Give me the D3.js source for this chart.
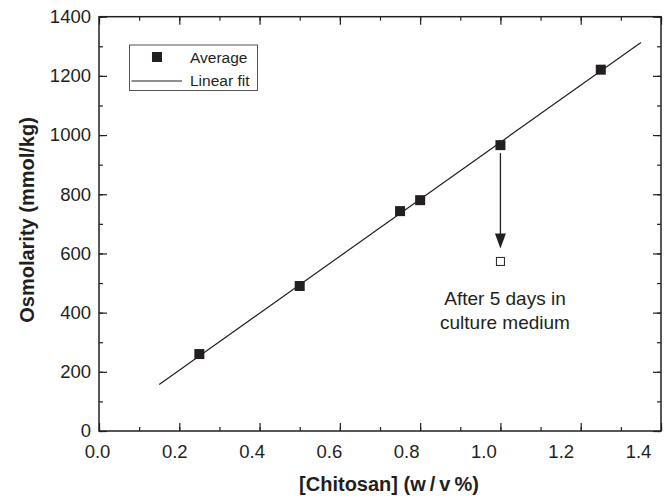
<!DOCTYPE html>
<html>
<head>
<meta charset="utf-8">
<script src="https://cdn.jsdelivr.net/npm/d3@7"></script>
<style>
  body { margin: 0; background: #fff; }
  svg { font-family: "Liberation Sans", Arial, sans-serif; }
</style>
</head>
<body>
<div id="chart"></div>
<script>
// values
const avgX = [0.25, 0.5, 0.75, 0.8, 1.0, 1.25];
const avgY = [260, 490, 743, 780, 966, 1221];
const fitX = [0.15, 1.35];
const fitY = [157, 1313];
const afterX = [1.0];
const afterY = [573];
const xTicks = [0, 0.2, 0.4, 0.6, 0.8, 1.0, 1.2, 1.4];
const yTicks = [0, 200, 400, 600, 800, 1000, 1200, 1400];

const ink = '#231f20';
const width = 672, height = 499;
const pLeft = 99, pRight = 661, pTop = 16.7, pBottom = 431;

const svg = d3.select('#chart').append('svg')
    .attr('width', width)
    .attr('height', height);

const x = d3.scaleLinear().domain([0, 1.4]).range([pLeft, pRight]);
const y = d3.scaleLinear().domain([0, 1400]).range([pBottom, pTop]);
// tick labels in the original sit a little left of their ticks
const xLab = d3.scaleLinear().domain([0, 1.4]).range([97, 638]);

const xMinor = d3.range(0, 15).map(i => i / 10);
const yMinor = d3.range(0, 15).map(i => i * 100);

function ticks(axis, vals, len) {
    return axis.tickValues(vals).tickSize(len).tickFormat('');
}

// inward ticks on all four sides
const g = svg.append('g').attr('class', 'frame');
g.append('g').attr('transform', `translate(0,${pBottom})`).call(ticks(d3.axisTop(x), xMinor, 4));
g.append('g').attr('transform', `translate(0,${pBottom})`).call(ticks(d3.axisTop(x), xTicks, 8));
g.append('g').attr('transform', `translate(0,${pTop})`).call(ticks(d3.axisBottom(x), xMinor, 4));
g.append('g').attr('transform', `translate(0,${pTop})`).call(ticks(d3.axisBottom(x), xTicks, 8));
g.append('g').attr('transform', `translate(${pLeft},0)`).call(ticks(d3.axisRight(y), yMinor, 4));
g.append('g').attr('transform', `translate(${pLeft},0)`).call(ticks(d3.axisRight(y), yTicks, 8));
g.append('g').attr('transform', `translate(${pRight},0)`).call(ticks(d3.axisLeft(y), yMinor, 4));
g.append('g').attr('transform', `translate(${pRight},0)`).call(ticks(d3.axisLeft(y), yTicks, 8));
g.selectAll('.domain').remove();
g.selectAll('line').attr('stroke', ink).attr('stroke-width', 1.2);

svg.append('rect')
    .attr('x', pLeft).attr('y', pTop)
    .attr('width', pRight - pLeft).attr('height', pBottom - pTop)
    .attr('fill', 'none').attr('stroke', ink).attr('stroke-width', 1.5);

// tick labels
const xl = svg.append('g').attr('transform', `translate(0,${pBottom + 9})`)
    .call(d3.axisBottom(xLab).tickValues(xTicks).tickSize(0).tickPadding(0).tickFormat(d3.format('.1f')));
const yl = svg.append('g').attr('transform', `translate(${pLeft - 8},0)`)
    .call(d3.axisLeft(y).tickValues(yTicks).tickSize(0).tickPadding(0).tickFormat(d3.format('d')));
[xl, yl].forEach(a => {
    a.attr('font-family', null).attr('font-size', null);
    a.select('.domain').remove();
    a.selectAll('text').attr('font-size', 18.5).attr('fill', ink);
});
xl.selectAll('text').attr('dy', '0.95em');

// axis titles
svg.append('text')
    .attr('x', 389).attr('y', 491)
    .attr('text-anchor', 'middle')
    .attr('font-size', 20).attr('font-weight', 'bold').attr('fill', ink)
    .text('[Chitosan] (w\u2009/\u2009v\u2009%)');

svg.append('text')
    .attr('transform', 'translate(34,220) rotate(-90)')
    .attr('text-anchor', 'middle')
    .attr('font-size', 20).attr('font-weight', 'bold').attr('fill', ink)
    .text('Osmolarity (mmol/kg)');

// linear fit
const line = d3.line().x(d => x(d[0])).y(d => y(d[1]));
svg.append('path')
    .datum(d3.zip(fitX, fitY))
    .attr('d', line)
    .attr('fill', 'none').attr('stroke', ink).attr('stroke-width', 1.2);

// averages
const sq = 10;
svg.selectAll('rect.avg')
    .data(d3.zip(avgX, avgY))
    .enter().append('rect')
    .attr('class', 'avg')
    .attr('x', d => x(d[0]) - sq / 2)
    .attr('y', d => y(d[1]) - sq / 2)
    .attr('width', sq).attr('height', sq)
    .attr('fill', ink);

// after 5 days point
const osq = 8;
svg.selectAll('rect.after')
    .data(d3.zip(afterX, afterY))
    .enter().append('rect')
    .attr('class', 'after')
    .attr('x', d => x(d[0]) - osq / 2)
    .attr('y', d => y(d[1]) - osq / 2)
    .attr('width', osq).attr('height', osq)
    .attr('fill', '#fff').attr('stroke', ink).attr('stroke-width', 1);

// arrow from the 1.0 average down to the open square
const ax = x(afterX[0]);
const y0 = y(avgY[4]) + sq / 2 + 3;
const y1 = y(afterY[0]) - osq / 2 - 9;
svg.append('line')
    .attr('x1', ax).attr('x2', ax)
    .attr('y1', y0).attr('y2', y1 - 12)
    .attr('stroke', ink).attr('stroke-width', 1.3);
svg.append('path')
    .attr('d', `M${ax - 5.5},${y1 - 15}L${ax + 5.5},${y1 - 15}L${ax},${y1}Z`)
    .attr('fill', ink);

const note = svg.append('text')
    .attr('text-anchor', 'middle')
    .attr('font-size', 19).attr('fill', ink);
note.append('tspan').attr('x', 505).attr('y', 305).text('After 5 days in');
note.append('tspan').attr('x', 505).attr('y', 329).text('culture medium');

// legend
const leg = svg.append('g');
leg.append('rect')
    .attr('x', 129.5).attr('y', 45)
    .attr('width', 128).attr('height', 45.5)
    .attr('fill', '#fff').attr('stroke', '#555').attr('stroke-width', 1);
leg.append('rect')
    .attr('x', 157 - sq / 2).attr('y', 57 - sq / 2)
    .attr('width', sq).attr('height', sq)
    .attr('fill', ink);
leg.append('line')
    .attr('x1', 131.5).attr('x2', 182)
    .attr('y1', 81).attr('y2', 81)
    .attr('stroke', ink).attr('stroke-width', 1.2);
leg.append('text').attr('x', 190).attr('y', 62.5)
    .attr('font-size', 15.5).attr('fill', ink).text('Average');
leg.append('text').attr('x', 190).attr('y', 85.5)
    .attr('font-size', 15.5).attr('fill', ink).text('Linear fit');
</script>
</body>
</html>
